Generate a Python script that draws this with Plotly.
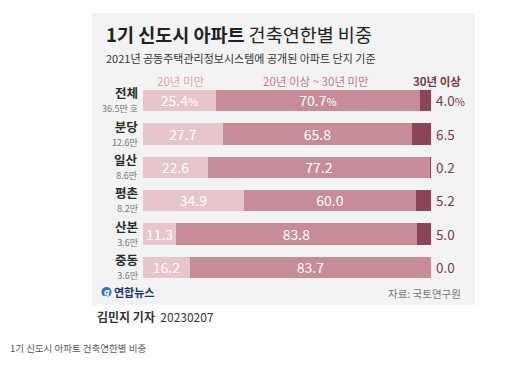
import plotly.graph_objects as go

categories = ["전체", "분당", "일산", "평촌", "산본", "중동"]
sublabels = ["36.5만 호", "12.6만", "8.6만", "8.2만", "3.6만", "3.6만"]
under20 = [25.4, 27.7, 22.6, 34.9, 11.3, 16.2]
mid20_30 = [70.7, 65.8, 77.2, 60.0, 83.8, 83.7]
over30 = [4.0, 6.5, 0.2, 5.2, 5.0, 0.0]
series_names = ["20년 미만", "20년 이상 ~ 30년 미만", "30년 이상"]

FONT = "Noto Sans CJK KR"
C_LIGHT = "#e6c6cb"
C_MID = "#c68c97"
C_DARK = "#8b4558"
W, H = 530, 374


def px_x(p):
    return p / W


def px_y(p):
    return 1 - p / H


def fmt(vals, first_pct=True):
    out = []
    for i, v in enumerate(vals):
        s = f"{v:.1f}"
        if i == 0 and first_pct:
            s += "<span style='font-size:11px'>%</span>"
        out.append(s)
    return out


bar_font = dict(color="white", size=14, family=FONT)
fig = go.Figure()
fig.add_trace(go.Bar(y=categories, x=under20, orientation="h", marker_color=C_LIGHT,
                     text=fmt(under20), textposition="inside", insidetextanchor="middle",
                     constraintext="none", textangle=0,
                     textfont=bar_font, name=series_names[0],
                     width=0.64, marker_line_width=0))
fig.add_trace(go.Bar(y=categories, x=mid20_30, orientation="h", marker_color=C_MID,
                     text=fmt(mid20_30), textposition="inside", insidetextanchor="middle",
                     constraintext="none", textangle=0,
                     textfont=bar_font, name=series_names[1],
                     width=0.64, marker_line_width=0))
fig.add_trace(go.Bar(y=categories, x=over30, orientation="h", marker_color=C_DARK,
                     name=series_names[2], width=0.64, marker_line_width=0))

annotations = []
for i, c in enumerate(categories):
    # right-hand value labels
    annotations.append(dict(x=px_x(434), y=c, xref="paper", yref="y", text=fmt(over30)[i],
                            showarrow=False, xanchor="left", yanchor="middle",
                            font=dict(size=13.5, color="#7a3a4b", family=FONT)))
    # category label: name + household count
    label = ("<span style='font-size:12.5px;color:#2a2a2a'><b>" + c + "</b></span><br>"
             + "<span style='font-size:9px'>" + sublabels[i] + "</span>")
    annotations.append(dict(x=px_x(140), y=c, xref="paper", yref="y", text=label,
                            showarrow=False, xanchor="right", yanchor="middle", align="right",
                            yshift=1,
                            font=dict(size=10.5, color="#777777", family=FONT)))


def ptext(x, y, text, size, color, xanchor="left", family=FONT):
    return dict(x=px_x(x), y=px_y(y), xref="paper", yref="paper", text=text, showarrow=False,
                xanchor=xanchor, yanchor="middle", font=dict(size=size, color=color, family=family))


annotations += [
    ptext(181, 81, series_names[0], 11.5, "#dca6af", "center"),
    ptext(316, 81, series_names[1], 11.5, "#c07a88", "center"),
    ptext(463, 81, "<b>" + series_names[2] + "</b>", 11.5, "#7a3a4b", "right"),
    ptext(104, 34, "<b>1기 신도시 아파트</b> 건축연한별 비중", 18.5, "#222222"),
    ptext(104, 58, "2021년 공동주택관리정보시스템에 공개된 아파트 단지 기준", 11, "#333333"),
    ptext(112, 292, "<b>연합뉴스</b>", 11, "#1d2f6b"),
    ptext(106.5, 292, "<b><i>g</i></b>", 8, "white", "center", "DejaVu Sans"),
    ptext(463, 293, "자료: 국토연구원", 10.5, "#777777", "right"),
    ptext(95, 316, "<b>김민지 기자</b>  20230207", 12, "#333333"),
    ptext(8, 348, "1기 신도시 아파트 건축연한별 비중", 9.5, "#555555"),
]

shapes = [
    dict(type="rect", xref="paper", yref="paper", x0=px_x(92), x1=px_x(475), y0=px_y(305), y1=px_y(13),
         fillcolor="#f3f3f3", line_width=0, layer="below"),
    dict(type="circle", xref="paper", yref="paper", x0=px_x(101.5), x1=px_x(111.5),
         y0=px_y(297), y1=px_y(287), fillcolor="#2b6fd1", line_width=0, layer="above"),
]

fig.update_layout(
    width=W, height=H, margin=dict(l=0, r=0, t=0, b=0),
    paper_bgcolor="white", plot_bgcolor="rgba(0,0,0,0)",
    barmode="stack", showlegend=False, bargap=0,
    xaxis=dict(domain=[px_x(143), px_x(431)], range=[0, 100], visible=False, fixedrange=True),
    yaxis=dict(domain=[px_y(283.7), px_y(83.8)], categoryorder="array", categoryarray=categories,
               range=[5.5, -0.5], visible=False, fixedrange=True),
    annotations=annotations, shapes=shapes,
    font=dict(family=FONT),
)

fig.write_html("out.html", config={"displayModeBar": False},
               post_script="document.body.style.margin='0';")
